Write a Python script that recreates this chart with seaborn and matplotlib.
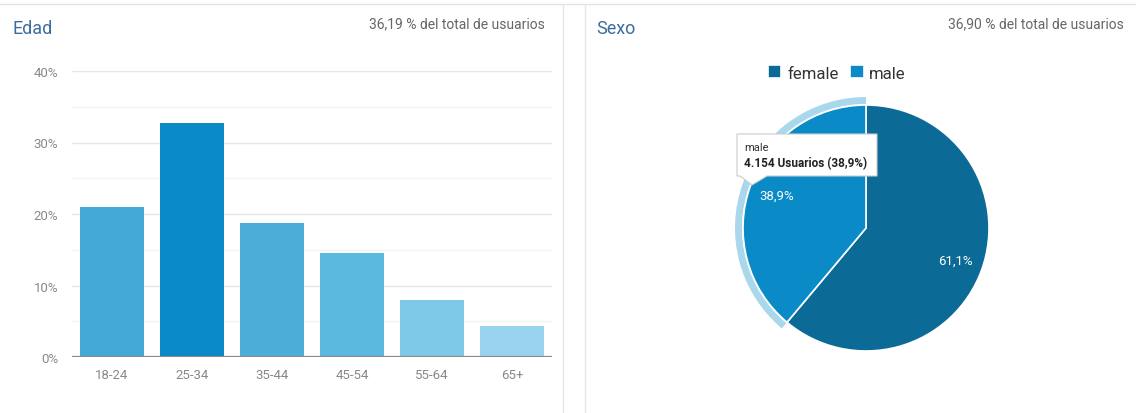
import matplotlib
matplotlib.use("Agg")
import matplotlib.pyplot as plt
import matplotlib.patches as mpatches
import matplotlib.lines as mlines
import seaborn as sb
import pandas as pd

# datos
edades = ["18-24", "25-34", "35-44", "45-54", "55-64", "65+"]
porcentajes = [21.0, 32.7, 18.7, 14.5, 8.0, 4.4]
colores_edad = ["#45a9d7", "#0a8bc8", "#4aaed9", "#5bb8df", "#7ec8e8", "#9ad3ef"]

sexos = ["female", "male"]
sexo_pct = [61.1, 38.9]
colores_sexo = ["#0b6b96", "#0a8bc8"]

W, H = 1136, 414


def px(x, y):
    # pixeli -> coordonate figura
    return x / W, 1 - y / H


sb.set_style("white")
plt.rcParams["font.family"] = ["Roboto", "DejaVu Sans"]

fig = plt.figure(figsize=(W / 100, H / 100), dpi=100)
assert isinstance(fig, plt.Figure)

# chenar
fig.add_artist(mlines.Line2D([0, 1], [1 - 5 / H] * 2, color="#e3e3e3", lw=1, transform=fig.transFigure))
for xv in (563, 585):
    fig.add_artist(mlines.Line2D([xv / W] * 2, [0, 1 - 5 / H], color="#e6e6e6", lw=1, transform=fig.transFigure))

# titluri
fig.text(*px(12, 29), "Edad", fontsize=13, color="#3b6e9c", va="center", ha="left")
fig.text(*px(545, 24), "36,19 % del total de usuarios", fontsize=10, color="#666666", va="center", ha="right")
fig.text(*px(596, 29), "Sexo", fontsize=13, color="#3b6e9c", va="center", ha="left")
fig.text(*px(1124, 24), "36,90 % del total de usuarios", fontsize=10, color="#666666", va="center", ha="right")

# grafic bare
ax = fig.add_axes([72 / W, 56 / H, 480 / W, 286 / H])
assert isinstance(ax, plt.Axes)
t = pd.DataFrame({"edad": edades, "pct": porcentajes})
sb.barplot(data=t, x="edad", y="pct", hue="edad", palette=colores_edad, legend=False,
           width=0.8, saturation=1, ax=ax, zorder=3, edgecolor="none")
ax.set_ylim(0, 40)
ax.set_xlim(-0.5, 5.5)
ax.set_yticks([0, 10, 20, 30, 40])
ax.set_yticklabels([f"{v}%" for v in [0, 10, 20, 30, 40]])
for v in [5, 15, 25, 35]:
    ax.axhline(v, color="#f3f3f3", lw=1, zorder=1)
for v in [10, 20, 30, 40]:
    ax.axhline(v, color="#e6e6e6", lw=1, zorder=1)
ax.axhline(0, color="#8a8a8a", lw=1.6, zorder=4)
ax.set_xlabel("")
ax.set_ylabel("")
for s in ax.spines.values():
    s.set_visible(False)
ax.tick_params(axis="both", length=0, labelsize=9.5, labelcolor="#888888")
ax.tick_params(axis="y", pad=10)
ax.tick_params(axis="x", pad=8)

# grafic placinta
R = 123
cx, cy = 866, 229
ax2 = fig.add_axes([(cx - 150) / W, (H - cy - 150) / H, 300 / W, 300 / H])
assert isinstance(ax2, plt.Axes)
ax2.axis("off")

# inel de evidentiere pentru "male"
ax2.pie(sexo_pct, radius=R + 8, startangle=90, counterclock=False,
        colors=["none", "#a9d7ec"], wedgeprops=dict(width=7, edgecolor="none"))
wedges, _, autotexts = ax2.pie(
    sexo_pct, radius=R, startangle=90, counterclock=False, colors=colores_sexo,
    autopct=lambda p: f"{p:.1f}%".replace(".", ","), pctdistance=0.77,
    wedgeprops=dict(edgecolor="white", linewidth=1.2))
for at in autotexts:
    at.set_color("white")
    at.set_fontsize(9.5)
ax2.set_xlim(-150, 150)
ax2.set_ylim(-150, 150)
ax2.set_aspect("equal")

fig.legend(wedges, sexos, loc="center", bbox_to_anchor=px(837, 74), ncol=2, frameon=False,
           handlelength=0.8, handleheight=0.8, handletextpad=0.35, columnspacing=0.7,
           fontsize=12, labelcolor="#333333")

# tooltip
fig.add_artist(mpatches.Polygon(
    [px(737, 177), px(740, 177), px(752, 186), px(767, 177), px(877, 177), px(877, 135), px(737, 135)],
    closed=True, facecolor="white", edgecolor="#cccccc", lw=0.8, transform=fig.transFigure, zorder=10))
fig.text(*px(744, 148), "male", fontsize=8, color="#333333", va="center", ha="left", zorder=11)
fig.text(*px(744, 164), "4.154 Usuarios (38,9%)", fontsize=8.5, color="#222222",
         fontweight="bold", va="center", ha="left", zorder=11)

fig.savefig("out.png", dpi=100, facecolor="white")
